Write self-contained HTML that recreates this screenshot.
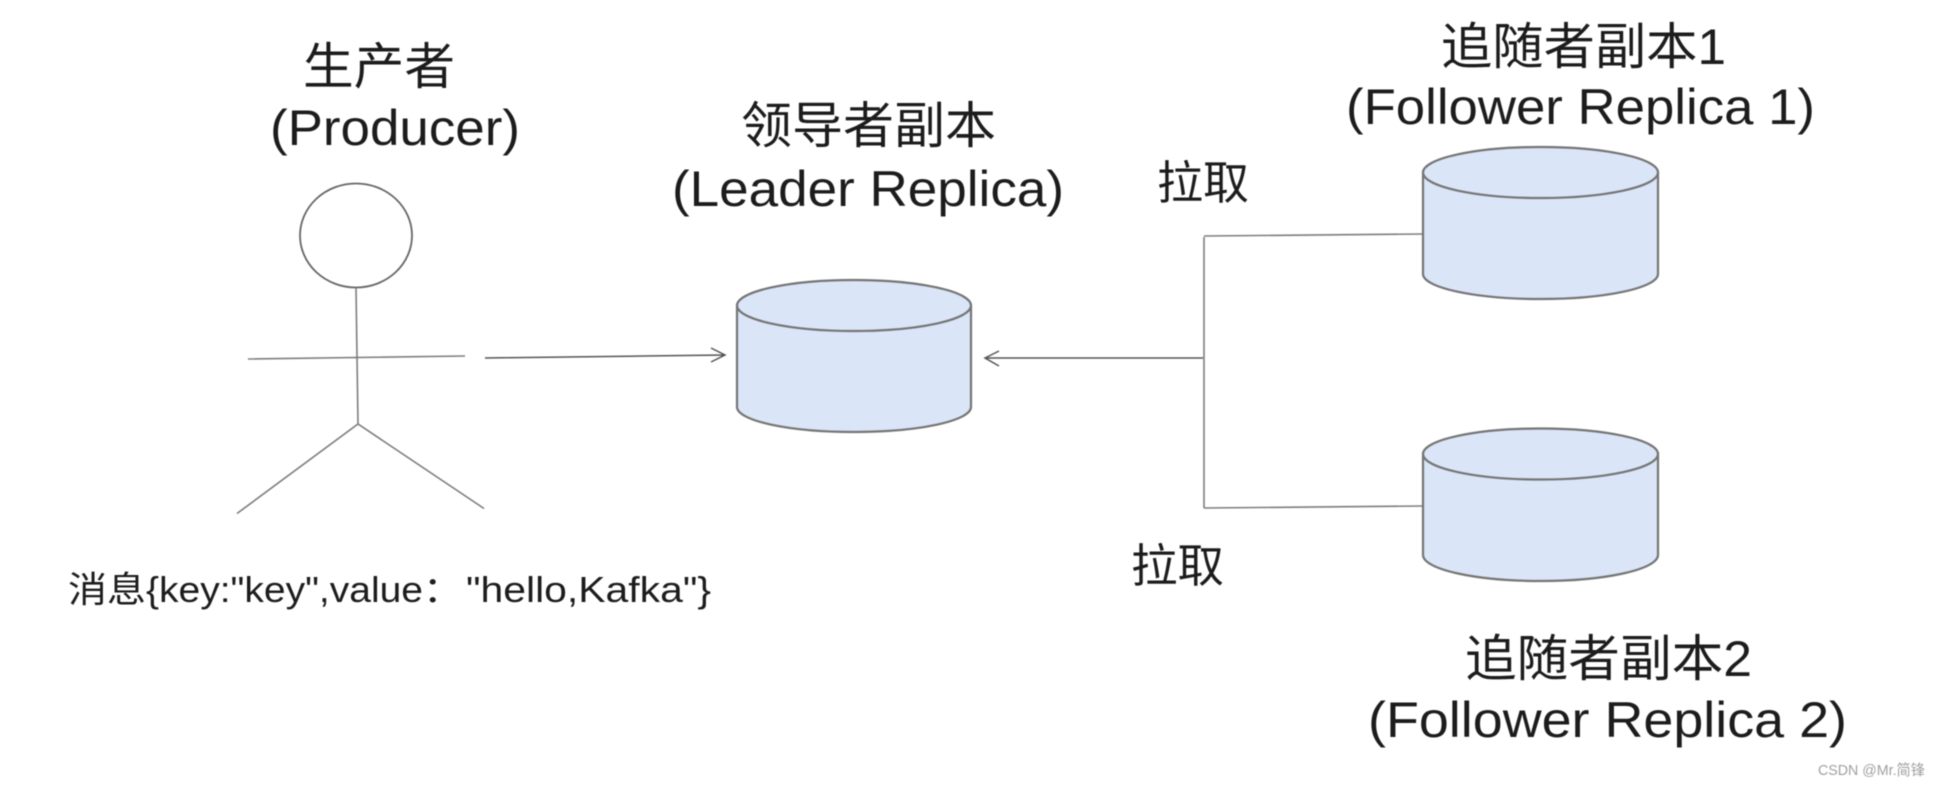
<!DOCTYPE html>
<html lang="zh">
<head>
<meta charset="utf-8">
<title>Kafka replica diagram</title>
<style>
html,body{margin:0;padding:0;background:#fff;width:1940px;height:787px;overflow:hidden}
svg{display:block;filter:blur(0.4px)}
text{font-family:"Liberation Sans","Noto Sans CJK SC",sans-serif;fill:#1c1c1c}
.l{fill:none;stroke:#7d7d7d;stroke-width:1.6}
.d{fill:none;stroke:#555;stroke-width:1.5}
.c{fill:#dae5f8;stroke:#757575;stroke-width:2.2}
</style>
</head>
<body>
<svg width="1940" height="787" viewBox="0 0 1940 787" xmlns="http://www.w3.org/2000/svg">
  <!-- Producer figure -->
  <ellipse class="l" cx="356" cy="235.500" rx="56" ry="52" style="stroke:#666;stroke-width:1.8"/>
  <path class="l" d="M356 288L358 424M248 359L465 356M237 513.500L358 424L484 508.500"/>

  <!-- Arrows -->
  <path class="d" d="M485 358L725 355M711 348L725 355L711 362"/>
  <path class="d" d="M1203 358L985 358M999 351L985 358L999 366"/>
  <path class="l" d="M1204 237L1204 508M1204 236L1423 234M1204 508L1423 506"/>

  <!-- Leader cylinder -->
  <path class="c" d="M737 305.500V407A117 25 0 0 0 971 407V305.500Z"/>
  <ellipse class="c" cx="854" cy="305.500" rx="117" ry="25.500"/>

  <!-- Follower 1 cylinder -->
  <path class="c" d="M1423 172.500V274A117.500 25 0 0 0 1658 274V172.500Z"/>
  <ellipse class="c" cx="1540.500" cy="172.500" rx="117.500" ry="25.500"/>

  <!-- Follower 2 cylinder -->
  <path class="c" d="M1423 454V555A117.500 26 0 0 0 1658 555V454Z"/>
  <ellipse class="c" cx="1540.500" cy="454" rx="117.500" ry="25.500"/>

  <!-- Labels -->
  <text x="303" y="84" font-size="50" textLength="152" lengthAdjust="spacingAndGlyphs">生产者</text>
  <text x="270" y="145" font-size="50" textLength="250" lengthAdjust="spacingAndGlyphs">(Producer)</text>
  <text x="741" y="143" font-size="50" textLength="255" lengthAdjust="spacingAndGlyphs">领导者副本</text>
  <text x="672" y="206" font-size="50" textLength="392" lengthAdjust="spacingAndGlyphs">(Leader Replica)</text>
  <text x="1157" y="199" font-size="46" textLength="92" lengthAdjust="spacingAndGlyphs">拉取</text>
  <text x="1131" y="582" font-size="46" textLength="93" lengthAdjust="spacingAndGlyphs">拉取</text>
  <text x="1441" y="64" font-size="50" textLength="285" lengthAdjust="spacingAndGlyphs">追随者副本1</text>
  <text x="1346" y="124" font-size="50" textLength="469" lengthAdjust="spacingAndGlyphs">(Follower Replica 1)</text>
  <text x="1465" y="676" font-size="50" textLength="287" lengthAdjust="spacingAndGlyphs">追随者副本2</text>
  <text x="1368" y="737" font-size="50" textLength="479" lengthAdjust="spacingAndGlyphs">(Follower Replica 2)</text>
  <text x="68" y="602" font-size="36" textLength="394" lengthAdjust="spacingAndGlyphs">消息{key:"key",value：</text>
  <text x="466" y="602" font-size="36" textLength="245" lengthAdjust="spacingAndGlyphs">"hello,Kafka"}</text>
  <text x="1818" y="775" font-size="15" textLength="107" lengthAdjust="spacingAndGlyphs" style="fill:#a0a0a0">CSDN @Mr.简锋</text>
</svg>
</body>
</html>
